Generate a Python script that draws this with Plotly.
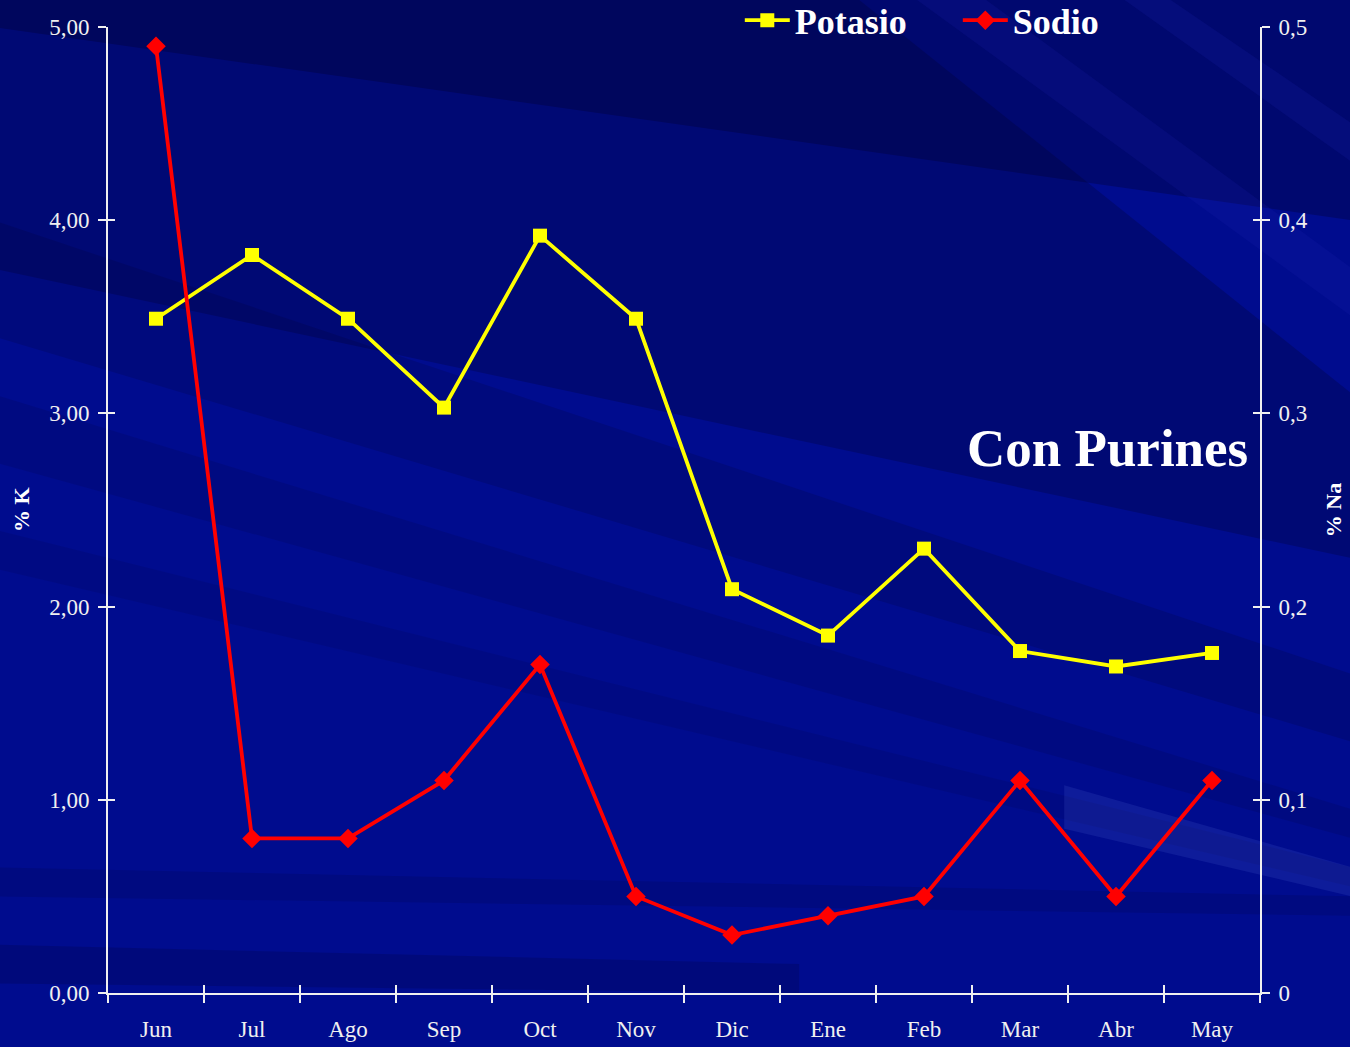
import plotly.graph_objects as go

months = ["Jun", "Jul", "Ago", "Sep", "Oct", "Nov", "Dic", "Ene", "Feb", "Mar", "Abr", "May"]
potasio = [3.49, 3.82, 3.49, 3.03, 3.92, 3.49, 2.09, 1.85, 2.30, 1.77, 1.69, 1.76]
sodio = [0.49, 0.08, 0.08, 0.11, 0.17, 0.05, 0.03, 0.04, 0.05, 0.11, 0.05, 0.11]
k_ticks = [0, 1, 2, 3, 4, 5]
na_ticks = [0, 0.1, 0.2, 0.3, 0.4, 0.5]

FONT = "Liberation Serif, Times New Roman, serif"
TXT = "#F0F0F0"

fig = go.Figure()
fig.add_trace(go.Scatter(
    x=months, y=potasio, name="Potasio", mode="lines+markers",
    line=dict(color="#FFFF00", width=3.8),
    marker=dict(symbol="square", size=14, color="#FFFF00"),
    xaxis="x", yaxis="y"))
fig.add_trace(go.Scatter(
    x=months, y=sodio, name="Sodio", mode="lines+markers",
    line=dict(color="#FF0000", width=3.8),
    marker=dict(symbol="diamond", size=15, color="#FF0000"),
    xaxis="x", yaxis="y2"))

# decorative background: darker upper-left, subtle diagonal streaks (whole page)
L, R, B, T = -0.1, 1.08, -0.06, 1.03
bands = [
    (f"M {L} {T} L {R} {T} L {R} 0.80 L {L} 1.0 Z", "rgba(0,0,40,0.30)"),
    (f"M {L} {T} L 0.65 {T} L {R} 0.62 L {R} 0.45 L {L} 0.75 Z", "rgba(0,0,40,0.25)"),
    (f"M {L} 0.80 L {R} 0.33 L {R} 0.26 L {L} 0.68 Z", "rgba(0,0,40,0.16)"),
    (f"M {L} 0.62 L {R} 0.19 L {R} 0.16 L {L} 0.55 Z", "rgba(0,0,40,0.12)"),
    (f"M {L} 0.48 L {R} 0.13 L {R} 0.11 L {L} 0.44 Z", "rgba(0,0,40,0.10)"),
    (f"M 0.83 0.215 L {R} 0.13 L {R} 0.10 L 0.83 0.17 Z", "rgba(90,110,220,0.16)"),
    (f"M {L} 0.13 L {R} 0.10 L {R} 0.08 L {L} 0.10 Z", "rgba(0,0,40,0.14)"),
    (f"M {L} 0.05 L 0.6 0.03 L 0.6 0.0 L {L} 0.01 Z", "rgba(0,0,40,0.18)"),
    (f"M 0.70 {T} L 0.76 {T} L {R} 0.75 L {R} 0.70 Z", "rgba(30,40,180,0.16)"),
    (f"M 0.88 {T} L 0.92 {T} L {R} 0.90 L {R} 0.86 Z", "rgba(30,40,180,0.18)"),
]
shapes = [dict(type="path", path=p, xref="paper", yref="paper", fillcolor=c,
               line=dict(width=0), layer="below") for p, c in bands]

axis_common = dict(showgrid=False, zeroline=False, linecolor=TXT, linewidth=2,
                   tickcolor=TXT, tickwidth=2, tickfont=dict(family=FONT, size=23, color=TXT))

fig.update_layout(
    width=1350, height=1047,
    margin=dict(l=108, r=90, t=27, b=54, autoexpand=False),
    paper_bgcolor="#000C8E",
    plot_bgcolor="rgba(0,0,0,0)",
    separators=",.",
    shapes=shapes,
    showlegend=True,
    legend=dict(orientation="h", x=0.548, y=1.038, xanchor="left", yanchor="top",
                xref="container", yref="paper",
                font=dict(family=FONT, size=36, color="white", weight="bold"),
                bgcolor="rgba(0,0,0,0)", itemwidth=45, entrywidth=158,
                traceorder="normal", tracegroupgap=0),
    xaxis=dict(type="category", categoryorder="array", categoryarray=months,
               range=[-0.5, 11.5], ticks="outside", ticklen=8, tickson="boundaries",
               ticklabelstandoff=14, showline=True, **axis_common),
    xaxis2=dict(overlaying="x", anchor="y", side="bottom", range=[-0.5, 11.5],
                tickvals=[i - 0.5 for i in range(13)], ticks="inside", ticklen=8,
                showticklabels=False, showline=False, showgrid=False, zeroline=False,
                tickcolor=TXT, tickwidth=2),
    yaxis=dict(range=[0, 5], tickvals=k_ticks, tickformat=".2f", ticks="outside",
               ticklen=8, ticklabelstandoff=4, showline=True, **axis_common),
    yaxis2=dict(range=[0, 0.5], tickvals=na_ticks, overlaying="y", side="right",
                anchor="x", ticks="outside", ticklen=8, ticklabelstandoff=4, showline=True,
                **axis_common),
    yaxis3=dict(range=[0, 5], tickvals=k_ticks, overlaying="y", side="left", anchor="x",
                ticks="inside", ticklen=7, showticklabels=False, showline=False,
                showgrid=False, zeroline=False, tickcolor=TXT, tickwidth=2),
    yaxis4=dict(range=[0, 0.5], tickvals=na_ticks, overlaying="y", side="right", anchor="x",
                ticks="inside", ticklen=7, showticklabels=False, showline=False,
                showgrid=False, zeroline=False, tickcolor=TXT, tickwidth=2),
    annotations=[
        dict(text="<b>Con Purines</b>", xref="paper", yref="paper",
             x=0.991, y=0.564, xanchor="right", yanchor="middle", showarrow=False,
             font=dict(family=FONT, size=53, color="white")),
        dict(text="<b>% K</b>", xref="paper", yref="paper", x=-0.0755, y=0.50,
             xanchor="center", yanchor="middle", textangle=-90, showarrow=False,
             font=dict(family=FONT, size=22, color="white")),
        dict(text="<b>% Na</b>", xref="paper", yref="paper", x=1.0635, y=0.50,
             xanchor="center", yanchor="middle", textangle=-90, showarrow=False,
             font=dict(family=FONT, size=22, color="white")),
    ],
)
# invisible helpers to activate the crossing-tick axes
fig.add_trace(go.Scatter(x=[0], y=[0], xaxis="x2", yaxis="y3", showlegend=False,
                         hoverinfo="skip", mode="markers", marker=dict(opacity=0)))
fig.add_trace(go.Scatter(x=[0], y=[0], xaxis="x2", yaxis="y4", showlegend=False,
                         hoverinfo="skip", mode="markers", marker=dict(opacity=0)))

fig.write_html("out.html", config={"displayModeBar": False},
               post_script="document.body.style.margin='0';")
